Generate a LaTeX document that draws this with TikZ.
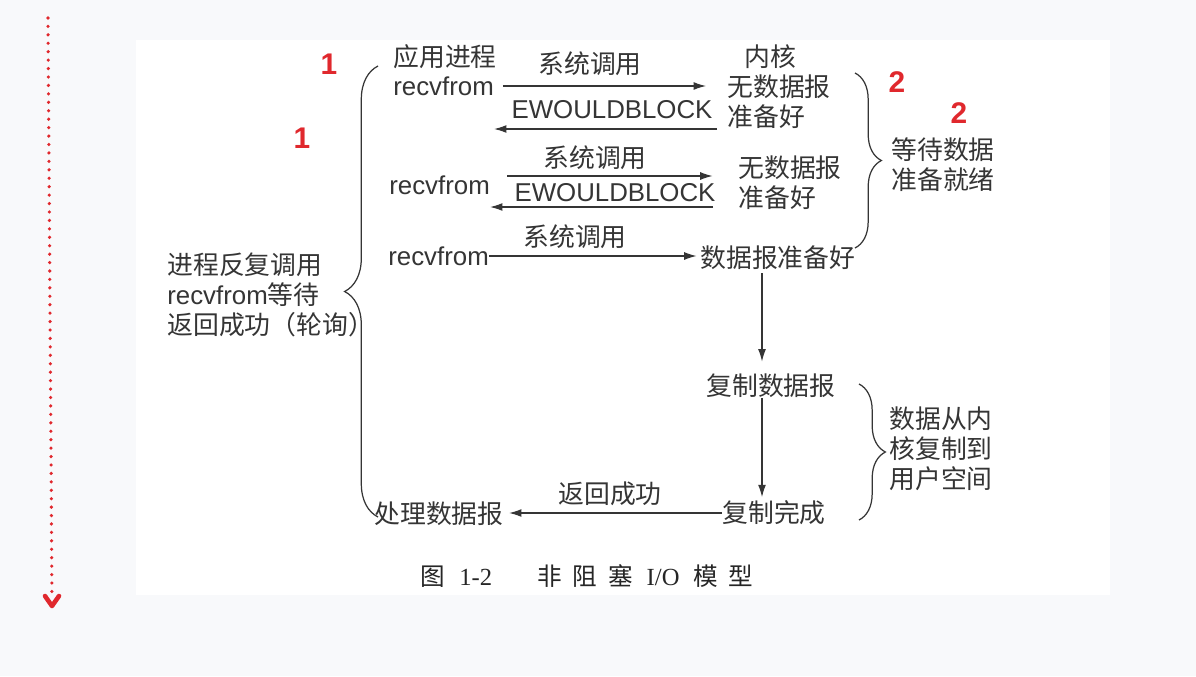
\documentclass[tikz,border=0pt]{standalone}
\usepackage{fontspec}
\setmainfont{Liberation Sans}
\newfontfamily\cjk{Noto Sans CJK SC}
\newfontfamily\capserif{Liberation Serif}
\usetikzlibrary{arrows.meta,decorations.pathreplacing}
\definecolor{ink}{HTML}{353535}
\definecolor{redmk}{HTML}{E0282D}
\definecolor{pagebg}{HTML}{F8F9FB}
\tikzset{every node/.style={inner sep=0pt, text=ink},
  cn/.style={font=\fontsize{14.7}{17}\selectfont\cjk},
  en/.style={font=\fontsize{14.7}{17}\selectfont},
  arr/.style={draw=ink, line width=0.6pt, -{Latex[length=7pt,width=4.5pt]}},
  brc/.style={draw=ink, line width=0.7pt, decorate, decoration={brace,amplitude=#1}},
  num/.style={text=redmk, font=\fontsize{17}{19}\selectfont\bfseries}}

\begin{document}
\begin{tikzpicture}[x=0.02cm,y=-0.02cm]
  \useasboundingbox (0,0) rectangle (1196,676);
  \fill[pagebg] (0,0) rectangle (1196,676);
  \fill[white] (136,40) rectangle (1110,595);

  % red guide and marks
  \draw[redmk, line width=2pt, line cap=round, dash pattern=on 0pt off 4.8pt] (48,18) -- (52,598);
  \draw[redmk, line width=2.6pt, line cap=round, line join=round] (45,596) -- (52,606) -- (59,596);
  \node[num] (n1) at (329,64) {1};
  \node[num] (n2) at (302,138) {1};
  \node[num] (n3) at (897,82) {2};
  \node[num] (n4) at (959,113) {2};

  % first call
  \node[cn, anchor=west] (app) at (393,57) {应用进程};
  \node[en, anchor=west] (rf1) at (393,86) {recvfrom};
  \node[cn] (sys1) at (590,64) {系统调用};
  \node[cn] (kern) at (770,57) {内核};
  \node[cn, anchor=west] (nd1) at (727,87) {无数据报};
  \node[cn, anchor=west] (rd1) at (727,117) {准备好};
  \node[en] (ew1) at (612,110) {EWOULDBLOCK};
  \coordinate (b1) at (717,129);
  \draw[arr, shorten <=5pt, shorten >=12pt] (rf1.east) -- (rf1.east -| nd1.west);
  \draw[arr] (b1) -- (b1 -| rf1.east);

  % second call
  \node[cn] (sys2) at (595,158) {系统调用};
  \node[en, anchor=west] (rf2) at (389,185) {recvfrom};
  \node[en] (ew2) at (615,193) {EWOULDBLOCK};
  \node[cn, anchor=west] (nd2) at (738,168) {无数据报};
  \node[cn, anchor=west] (rd2) at (738,198) {准备好};
  \coordinate (f2) at (507,176);
  \coordinate (b2) at (713,207);
  \draw[arr, shorten >=14.5pt] (f2) -- (f2 -| nd2.west);
  \draw[arr] (b2) -- (b2 -| rf2.east);

  % third call
  \node[cn] (sys3) at (575,237) {系统调用};
  \node[en, anchor=west] (rf3) at (388,256) {recvfrom};
  \node[cn, anchor=west] (dr) at (700,258) {数据报准备好};
  \draw[arr, shorten >=2pt] (rf3.east) -- (rf3.east -| dr.west);

  % copy phase
  \node[cn] (cp) at (771,386) {复制数据报};
  \node[cn] (done) at (774,513) {复制完成};
  \node[cn] (proc) at (439,514) {处理数据报};
  \node[cn] (ret) at (610,494) {返回成功};
  \coordinate (d1) at (762,273);
  \draw[arr, shorten >=7pt] (d1) -- (d1 |- cp.north);
  \draw[arr, shorten >=2pt] (cp.south -| d1) -- (d1 |- done.north);
  \draw[arr, shorten >=3pt] (done.west) -- (done.west -| proc.east);

  % braces and notes
  \draw[brc=19pt] (378,517) -- (378,66);
  \node[en, anchor=west, align=left] (poll) at (167,295)
    {{\cjk 进程反复调用}\\recvfrom{\cjk 等待}\\{\cjk 返回成功（轮询）}};
  \draw[brc=15pt] (855,73) -- (855,248);
  \node[cn, anchor=west, align=left] (wait) at (891,165) {等待数据\\准备就绪};
  \draw[brc=15pt] (859,384) -- (859,520);
  \node[cn, anchor=west, align=left] (copy) at (889,449) {数据从内\\核复制到\\用户空间};

  % caption
  \node[font=\fontsize{14}{16}\selectfont\cjk, text=black!85] (cap) at (587,576)
    {图\hspace{8pt}{\capserif 1-2}\hspace{26pt}非\hspace{6pt}阻\hspace{6pt}塞\hspace{8pt}{\capserif I/O}\hspace{8pt}模\hspace{6pt}型};
\end{tikzpicture}
\end{document}
